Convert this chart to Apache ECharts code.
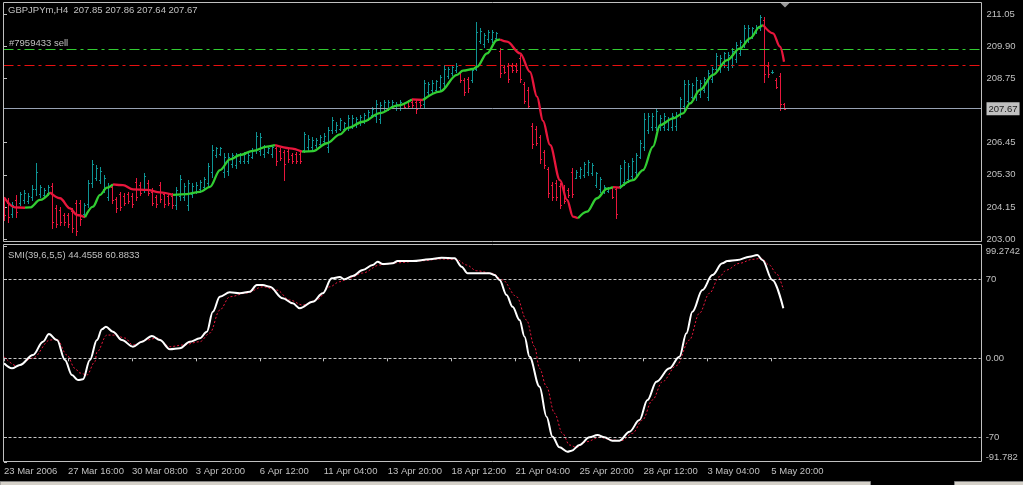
<!DOCTYPE html>
<html><head><meta charset="utf-8">
<script src="https://cdn.jsdelivr.net/npm/echarts@6/dist/echarts.min.js"></script>
<style>html,body{margin:0;padding:0;background:#000;overflow:hidden}#c{width:1023px;height:485px}</style>
</head><body><div id="c"></div>
<script>
// ---------- texts ----------
const symbolTitle = 'GBPJPYm,H4  207.85 207.86 207.64 207.67';
const orderLabel = '#7959433 sell';
const smiTitle = 'SMI(39,6,5,5) 44.4558 60.8833';

// ---------- axes ----------
const timeTickIdx = [0,16,32,48,64,80,96,112,128,144,160,176,192];
const timeTickLabels = ['23 Mar 2006','27 Mar 16:00','30 Mar 08:00','3 Apr 20:00','6 Apr 12:00','11 Apr 04:00','13 Apr 20:00','18 Apr 12:00','21 Apr 04:00','25 Apr 20:00','28 Apr 12:00','3 May 04:00','5 May 20:00'];
const priceTicks = [203.00,204.15,205.30,206.45,207.67,208.75,209.90,211.05];
const bidPrice = 207.67;
const orderOpenPrice = 209.80;
const orderTargetPrice = 209.22;
const smiLevels = [70,0,-70];
const smiTicks = [99.2742,70,0,-70,-91.782];

// ---------- price bars [open, high, low, close] ----------
const ohlc = [
[204.40,204.52,203.68,203.85],[204.30,204.46,203.62,203.80],[203.90,204.34,203.80,204.20],[204.40,204.58,203.80,203.95],
[204.30,204.70,204.22,204.60],[204.40,204.77,204.28,204.65],[204.35,204.63,204.28,204.55],[204.50,204.93,204.40,204.80],
[204.80,205.71,204.58,205.40],[204.60,204.93,204.52,204.85],[204.58,204.81,204.52,204.75],[204.65,204.93,204.58,204.88],
[204.90,204.99,203.38,203.60],[204.10,204.22,203.44,203.55],[204.05,204.16,203.50,203.60],[203.85,203.92,203.50,203.60],
[203.85,203.92,203.44,203.55],[204.00,204.10,203.26,203.40],[204.30,204.40,203.14,203.30],[204.30,204.40,203.50,203.70],
[203.90,204.28,203.80,204.20],[204.25,205.11,204.16,205.00],[205.00,205.83,204.87,205.70],[205.20,205.65,205.11,205.55],
[205.10,205.59,204.99,205.45],[204.80,205.29,204.70,205.20],[204.50,204.99,204.40,204.90],[204.85,204.93,204.28,204.40],
[204.45,204.52,203.98,204.10],[204.60,204.70,204.04,204.15],[204.55,204.63,204.22,204.30],[204.60,204.70,204.28,204.35],
[204.55,204.63,204.16,204.25],[205.05,205.17,204.40,204.50],[204.95,205.05,204.58,204.65],[204.80,205.35,204.70,205.25],
[205.00,205.11,204.58,204.65],[204.70,204.81,204.22,204.30],[204.50,204.58,204.16,204.25],[204.95,205.05,204.34,204.45],
[204.60,204.70,204.16,204.25],[204.55,204.63,204.22,204.30],[204.55,204.63,204.10,204.20],[204.20,204.87,204.06,204.75],
[204.55,205.29,204.40,205.15],[204.50,204.99,204.40,204.90],[204.20,205.11,204.04,205.00],[204.60,204.99,204.52,204.90],
[204.70,205.05,204.63,204.95],[204.80,205.11,204.70,205.05],[204.85,205.23,204.77,205.15],[205.00,205.71,204.87,205.60],
[205.40,206.37,205.23,206.20],[206.00,206.31,205.95,206.25],[206.05,206.31,206.01,206.25],[205.40,206.07,205.23,205.95],
[205.45,206.07,205.29,205.95],[205.70,206.07,205.59,206.00],[205.65,206.07,205.53,205.98],[205.80,206.07,205.71,206.00],
[205.80,206.13,205.71,206.05],[205.80,206.07,205.71,206.00],[205.95,206.25,205.89,206.20],[206.20,206.85,206.07,206.70],
[206.15,206.79,206.01,206.65],[206.05,206.37,205.95,206.30],[206.12,206.31,206.07,206.25],[206.05,206.37,205.95,206.30],
[206.25,206.31,205.65,205.80],[206.15,206.25,205.83,205.90],[206.10,206.19,205.11,205.70],[206.15,206.25,205.77,205.85],
[206.00,206.07,205.71,205.80],[206.05,206.13,205.71,205.80],[206.05,206.13,205.71,205.80],[206.20,206.85,206.13,206.75],
[206.30,206.73,206.19,206.60],[206.30,206.67,206.19,206.55],[206.35,206.61,206.31,206.55],[206.40,206.73,206.31,206.65],
[206.50,206.79,206.43,206.70],[206.30,207.02,206.13,206.90],[206.90,207.38,206.79,207.25],[206.90,207.20,206.85,207.10],
[206.95,207.32,206.90,207.25],[206.95,207.20,206.90,207.15],[207.00,207.44,206.90,207.35],[207.05,207.44,206.96,207.35],
[207.10,207.38,207.02,207.30],[207.15,207.44,207.08,207.38],[207.20,207.50,207.14,207.45],[207.30,207.62,207.26,207.55],
[207.45,207.74,207.38,207.65],[207.40,207.98,207.20,207.85],[207.30,207.92,207.14,207.80],[207.70,207.98,207.62,207.90],
[207.70,207.98,207.62,207.90],[207.75,207.98,207.68,207.90],[207.70,207.92,207.62,207.85],[207.70,207.98,207.62,207.90],
[207.82,207.86,207.68,207.72],[207.90,207.98,207.68,207.75],[207.92,207.98,207.74,207.80],[207.90,207.98,207.53,207.65],
[207.90,207.98,207.74,207.80],[207.85,208.70,207.74,208.60],[208.25,208.64,208.16,208.55],[208.35,208.70,208.28,208.60],
[208.35,208.70,208.28,208.65],[208.45,208.87,208.34,208.80],[208.60,209.23,208.46,209.10],[208.85,209.17,208.77,209.10],
[208.95,209.23,208.87,209.15],[209.05,209.29,208.99,209.20],[208.95,208.99,208.64,208.70],[208.70,208.77,208.16,208.25],
[208.75,208.81,208.28,208.40],[208.70,209.11,208.64,209.05],[209.10,210.79,209.05,210.40],[210.10,210.55,210.01,210.45],
[210.00,210.37,209.89,210.30],[210.15,210.49,210.07,210.40],[210.15,210.49,210.07,210.40],[210.20,210.43,210.13,210.38],
[209.75,209.83,208.81,208.95],[209.15,209.23,208.93,209.00],[209.20,209.29,208.64,208.75],[209.20,209.29,208.99,209.05],
[209.20,209.29,208.99,209.05],[209.50,209.59,208.64,208.75],[208.55,208.64,207.86,207.95],[208.35,208.46,207.68,207.75],
[207.05,207.14,206.25,206.40],[206.95,207.05,206.37,206.45],[206.65,206.73,205.71,205.85],[206.10,206.19,205.53,205.65],
[205.50,205.59,204.52,204.65],[204.95,205.05,204.40,204.50],[205.00,205.11,204.40,204.50],[204.90,204.99,204.10,204.20],
[204.85,204.93,204.28,204.35],[204.75,204.81,204.52,204.58],[205.40,205.53,204.52,204.60],[205.20,205.47,205.17,205.40],
[205.25,205.59,205.17,205.50],[205.30,205.77,205.23,205.70],[205.40,205.83,205.29,205.75],[205.35,205.71,205.29,205.65],
[204.95,205.41,204.87,205.35],[204.80,205.23,204.70,205.15],[204.68,204.93,204.63,204.88],[204.73,204.87,204.70,204.84],
[204.82,204.87,204.46,204.52],[204.80,204.87,203.74,203.90],[204.90,205.65,204.81,205.55],[205.05,205.83,204.93,205.75],
[205.15,205.71,205.05,205.60],[205.25,205.89,205.17,205.80],[205.40,206.07,205.29,206.00],[205.95,206.55,205.89,206.45],
[206.30,207.50,206.19,207.30],[206.90,207.50,206.79,207.40],[207.00,207.50,206.90,207.40],[207.00,207.71,206.90,207.60],
[207.00,207.44,206.90,207.35],[207.00,207.50,206.90,207.40],[206.95,207.38,206.90,207.30],[207.00,207.50,206.90,207.40],
[207.05,207.56,206.90,207.45],[207.45,208.10,207.38,208.00],[207.75,208.70,207.62,208.55],[207.95,208.70,207.86,208.55],
[208.10,208.58,208.04,208.50],[208.10,208.81,207.98,208.70],[208.20,208.70,208.10,208.60],[208.35,208.81,208.28,208.75],
[208.10,209.05,207.98,208.95],[208.75,209.17,208.64,209.10],[209.10,209.65,209.05,209.55],[209.10,209.59,208.99,209.50],
[209.25,209.71,209.17,209.65],[209.15,209.71,209.05,209.60],[209.25,209.83,209.17,209.75],[209.45,210.07,209.35,209.95],
[209.65,210.13,209.59,210.05],[209.95,210.67,209.89,210.55],[210.15,210.67,210.07,210.55],[210.25,210.61,210.19,210.55],
[210.40,210.67,210.37,210.60],[210.55,211.02,210.49,210.95],[210.85,210.96,208.64,208.90],[209.20,209.35,208.81,208.90],
[209.00,209.05,208.95,209.00],[208.70,208.76,208.40,208.45],[208.85,208.93,207.62,207.85],[207.85,207.86,207.64,207.67]
];

// ---------- smoothed moving average [barIndex, price] ----------
const maPoints = [
[0,204.49],[2.75,204.13],[5.25,204.12],[6.5,204.13],[9,204.40],[11.5,204.67],[14,204.46],[16.5,204.10],[18.25,203.86],
[20.25,203.78],[22.25,204.16],[24,204.58],[25.75,204.84],[27.25,204.96],[29.75,204.93],[32.25,204.78],[35.75,204.76],
[39,204.67],[42.25,204.58],[45.75,204.61],[49,204.69],[51.5,204.87],[54,205.47],[56.5,205.85],[59,206.01],[62.25,206.16],
[65.75,206.31],[67.75,206.36],[71.5,206.25],[74.5,206.13],[77.25,206.15],[80.75,206.43],[84,206.75],[86,206.98],
[89.75,207.20],[94,207.51],[98.25,207.78],[102,208.00],[104.75,207.98],[109,208.28],[113.25,208.88],[114.75,209.03],
[117.25,209.09],[118.25,209.17],[120.75,209.65],[123.25,210.13],[124,210.15],[125.75,210.07],[129,209.65],[131.5,208.99],
[133.25,208.10],[134.75,207.23],[136.5,206.37],[139,205.11],[140.75,204.40],[142.25,203.80],[143.5,203.74],[145.75,203.98],
[148.25,204.46],[150.75,204.80],[152.25,204.86],[154,204.84],[157.25,205.11],[159.75,205.47],[162.25,206.31],[164,207.08],
[167.25,207.32],[169.75,207.50],[171.5,207.86],[174,208.34],[177.25,208.88],[180.75,209.41],[184,209.83],[186.5,210.19],
[189,210.61],[189.75,210.67],[192.25,210.37],[194,209.89],[195,209.35]
];

// ---------- SMI main line [barIndex, value] ----------
const smiPoints = [
[0,-4.4],[2,-8.9],[4,-5.9],[7.25,2.9],[9.75,14.7],[11.25,21.5],[13.25,16.2],[15.25,-1.5],[17,-14.8],[18.5,-19.2],
[19.75,-18.6],[21.5,-1.5],[23.25,16.2],[24.5,25.7],[25.5,28.0],[27.25,23.6],[29.5,16.2],[32.25,10.3],[34.5,14.7],
[37,19.8],[39,16.2],[41.5,8.0],[44,8.9],[46.5,14.7],[49,17.7],[50.75,23.6],[52.25,41.3],[54,54.6],[56.5,58.5],
[59,57.6],[61.5,59.0],[63.25,64.9],[64.75,64.9],[66.5,63.4],[69.75,53.2],[72.25,48.7],[74,44.3],[77.25,50.1],
[79.75,57.6],[82,70.9],[84,72.0],[85.25,70.0],[87.25,72.9],[89.75,78.2],[92.25,82.7],[93.5,85.6],[94.75,83.6],
[97.25,84.2],[98.5,86.2],[102.25,86.2],[106.5,87.7],[109.5,89.1],[112.75,88.6],[114.5,81.2],[116,75.3],[121.5,75.3],
[122.75,73.8],[124,69.4],[125.75,56.1],[127.25,45.7],[129,33.9],[130.25,19.1],[131.5,1.4],[134,-25.2],[135.75,-51.7],
[137.25,-69.5],[139,-78.9],[141,-82.8],[142,-81.9],[144,-76.8],[146.5,-70.0],[148.5,-68.0],[150.25,-70.0],[152.25,-73.0],
[154,-73.0],[156.5,-65.0],[159,-54.7],[161,-36.9],[163.25,-20.7],[166.5,-8.9],[169,1.4],[170.75,22.2],[172.25,41.3],
[174.75,60.5],[177.25,73.8],[179.75,84.2],[181,86.2],[183.5,87.1],[186.5,90.0],[188.5,91.5],[189.75,87.1],[192.25,69.4],
[195,44.4558]
];

// ---------- SMI signal line [barIndex, value] ----------
const signalPoints = [
[0,1.5],[3.25,-6.8],[7.25,0.3],[11.5,16.2],[13.25,17.0],[15.75,2.9],[17.75,-8.9],[19,-13.0],[20.75,-14.8],[22.75,-3.0],
[23.25,5.6],[25.75,20.6],[27.75,20.6],[30.25,18.0],[32.25,11.8],[35.75,16.2],[38.25,18.0],[41.5,10.3],[44.75,11.8],
[49,14.7],[51.5,22.4],[54,42.8],[56.5,54.6],[60.75,57.9],[64.75,63.4],[68.25,60.5],[71.5,51.7],[74.75,47.2],[78.25,51.7],
[81.5,63.4],[84,67.9],[86.5,71.1],[89.75,75.6],[94,82.7],[98.25,84.7],[104.75,86.5],[109,88.0],[113.25,87.7],[115.75,82.7],
[118.25,77.6],[122.25,75.3],[124.75,69.4],[128.25,54.6],[130.75,33.9],[132.75,10.3],[134,-8.9],[135.75,-25.2],[137.75,-48.7],
[139.75,-66.5],[141.5,-76.8],[143.25,-78.9],[145.75,-73.9],[149,-70.0],[152.25,-72.4],[154.5,-73.0],[157.25,-66.5],
[159.75,-54.7],[162.25,-36.9],[164.75,-20.7],[168.25,-6.5],[171.5,16.2],[174,39.9],[176.5,57.6],[179,72.3],[180.75,78.2],
[184,84.2],[187.25,87.7],[189.5,88.6],[191.5,82.7],[193.25,75.3],[195,60.8833]
];

// ---------- styling ----------
const TXT = '#c0c0c0', FRAME = '#c0c0c0', UP = '#0e9494', DOWN = '#e8163c';
const MA_UP = '#32cd32', MA_DOWN = '#e8163c';
const FONT = 'Liberation Sans, Arial, sans-serif';
const FS = 9.5;
const PX = { left: 3.5, right: 981.5, top1: 2.5, bot1: 241.5, top2: 246.3, bot2: 461.9 };
const xMin = -0.125, xMax = xMin + (PX.right - PX.left) / 4;

const chart = echarts.init(document.getElementById('c'), null, { renderer: 'canvas' });

function renderBar(params, api) {
  const i = api.value(0), o = api.value(1), h = api.value(2), l = api.value(3), c = api.value(4);
  const pH = api.coord([i, h]), pL = api.coord([i, l]), pO = api.coord([i, o]), pC = api.coord([i, c]);
  const x = Math.round(pH[0]) + 0.5;
  const col = c >= o ? UP : DOWN;
  const st = { stroke: col, lineWidth: 1 };
  const yo = Math.round(pO[1]) + 0.5, yc = Math.round(pC[1]) + 0.5;
  return { type: 'group', children: [
    { type: 'line', shape: { x1: x, y1: Math.round(pH[1]), x2: x, y2: Math.round(pL[1]) + 1 }, style: st },
    { type: 'line', shape: { x1: x - 1.5, y1: yo, x2: x, y2: yo }, style: st },
    { type: 'line', shape: { x1: x, y1: yc, x2: x + 1.5, y2: yc }, style: st }
  ]};
}

// split the moving average into rising / falling runs
const maRuns = [];
{
  let run = [maPoints[0]], dir = null;
  for (let k = 1; k < maPoints.length; k++) {
    const d = maPoints[k][1] >= maPoints[k - 1][1] ? 'up' : 'down';
    if (dir === null || d === dir) { run.push(maPoints[k]); dir = d; }
    else { maRuns.push({ dir, pts: run }); run = [maPoints[k - 1], maPoints[k]]; dir = d; }
  }
  maRuns.push({ dir, pts: run });
}

const maSeries = maRuns.map(r => ({
  type: 'line', xAxisIndex: 0, yAxisIndex: 0, data: r.pts, showSymbol: false, silent: true,
  smooth: 0.35, smoothMonotone: 'x', z: 5,
  lineStyle: { color: r.dir === 'up' ? MA_UP : MA_DOWN, width: 2.3 }
}));

function levelLine(price, color, dash) {
  return { type: 'line', xAxisIndex: 0, yAxisIndex: 0, data: [], silent: true, z: 2,
    markLine: { silent: true, symbol: 'none', animation: false, label: { show: false },
      lineStyle: { color: color, width: 1, type: dash, opacity: 1 },
      emphasis: { disabled: true },
      data: [{ yAxis: price }] } };
}

const option = {
  backgroundColor: '#000',
  animation: false,
  grid: [
    { left: PX.left, top: PX.top1, width: PX.right - PX.left, height: PX.bot1 - PX.top1, show: false },
    { left: PX.left, top: PX.top2, width: PX.right - PX.left, height: PX.bot2 - PX.top2, show: false }
  ],
  xAxis: [
    { type: 'value', gridIndex: 0, min: xMin, max: xMax, show: false },
    { type: 'value', gridIndex: 1, min: xMin, max: xMax,
      axisLine: { show: false }, splitLine: { show: false },
      axisTick: { show: true, customValues: timeTickIdx, length: 3, lineStyle: { color: FRAME } },
      axisLabel: { customValues: timeTickIdx, align: 'left', margin: 4, color: TXT, fontFamily: FONT, fontSize: FS,
        formatter: v => timeTickLabels[timeTickIdx.indexOf(Math.round(v))] || '' } }
  ],
  yAxis: [
    { type: 'value', gridIndex: 0, position: 'right', min: 202.910, max: 211.473,
      axisLine: { show: false }, splitLine: { show: false },
      axisTick: { show: true, customValues: priceTicks.filter(p => p !== bidPrice), length: 3, lineStyle: { color: FRAME } },
      axisLabel: { customValues: priceTicks, margin: 5, color: TXT, fontFamily: FONT, fontSize: FS,
        formatter: v => Math.abs(v - bidPrice) < 1e-6 ? '{box|' + v.toFixed(2) + '}' : v.toFixed(2),
        rich: { box: { backgroundColor: '#c0c0c0', color: '#202020', padding: [2, 2, 1, 2], fontFamily: FONT, fontSize: FS } } } },
    { type: 'value', gridIndex: 1, position: 'right', min: -91.782, max: 99.2742,
      axisLine: { show: false }, splitLine: { show: false },
      axisTick: { show: true, customValues: smiTicks, length: 3, lineStyle: { color: FRAME } },
      axisLabel: { customValues: smiTicks, margin: 5, color: TXT, fontFamily: FONT, fontSize: FS,
        verticalAlignMaxLabel: 'bottom', verticalAlignMinLabel: 'top',
        formatter: v => (v === 0 ? '0.00' : String(v)) } }
  ],
  series: [
    levelLine(orderOpenPrice, '#32cd32', [10, 4, 3, 4]),
    levelLine(orderTargetPrice, '#e81010', [10, 4, 3, 4]),
    levelLine(bidPrice, '#98a2b3', 'solid'),
    { type: 'custom', xAxisIndex: 0, yAxisIndex: 0, renderItem: renderBar, z: 3, silent: true,
      encode: { x: 0, y: [1, 2, 3, 4] },
      data: ohlc.map((b, i) => [i, b[0], b[1], b[2], b[3]]) },
    ...maSeries,
    { type: 'line', xAxisIndex: 1, yAxisIndex: 1, data: signalPoints, showSymbol: false, silent: true,
      smooth: 0.35, smoothMonotone: 'x', z: 4,
      lineStyle: { color: '#e8163c', width: 1, type: [2, 2] } },
    { type: 'line', xAxisIndex: 1, yAxisIndex: 1, data: smiPoints, showSymbol: false, silent: true,
      smooth: 0.35, smoothMonotone: 'x', z: 5,
      lineStyle: { color: '#ffffff', width: 2 },
      markLine: { silent: true, symbol: 'none', animation: false, label: { show: false },
        lineStyle: { color: '#c8c8c8', width: 1, type: [3, 2] },
        data: smiLevels.map(v => ({ yAxis: v })) } }
  ],
  graphic: [
    { type: 'rect', shape: { x: PX.left, y: PX.top1, width: PX.right - PX.left, height: PX.bot1 - PX.top1 },
      style: { fill: 'none', stroke: FRAME, lineWidth: 1 }, z: 10, silent: true },
    { type: 'rect', shape: { x: PX.left, y: 244.5, width: PX.right - PX.left, height: 461.5 - 244.5 },
      style: { fill: 'none', stroke: FRAME, lineWidth: 1 }, z: 10, silent: true },
    { type: 'polygon', shape: { points: [[780.5, 3], [789.5, 3], [785, 7.5]] }, style: { fill: '#9a9a9a' }, z: 11, silent: true },
    { type: 'text', left: 8, top: 5, style: { text: symbolTitle, fill: TXT, font: FS + 'px ' + FONT }, z: 12, silent: true },
    { type: 'text', left: 9, top: 38.5, style: { text: orderLabel, fill: TXT, font: FS + 'px ' + FONT }, z: 12, silent: true },
    { type: 'text', left: 8, top: 250, style: { text: smiTitle, fill: TXT, font: FS + 'px ' + FONT }, z: 12, silent: true },
    { type: 'rect', shape: { x: 0, y: 481.5, width: 870.5, height: 5 }, style: { fill: '#d4d0c8', stroke: '#808080', lineWidth: 1 }, z: 12, silent: true },
    { type: 'rect', shape: { x: 954.5, y: 481.5, width: 70, height: 5 }, style: { fill: '#d4d0c8', stroke: '#808080', lineWidth: 1 }, z: 12, silent: true }
  ]
};
chart.setOption(option);
</script>
</body></html>
